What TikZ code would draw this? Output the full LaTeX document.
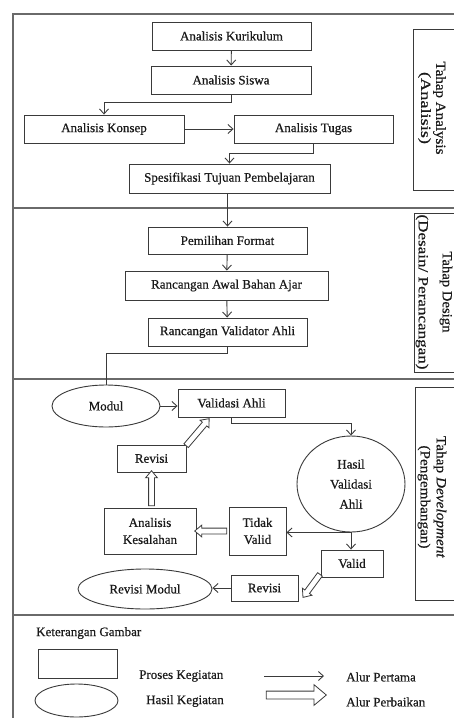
\documentclass[tikz,border=0pt]{standalone}
\usepackage{fontspec}
\setmainfont{Liberation Serif}[FakeBold=0.6]
\usepackage{graphicx}
\usetikzlibrary{arrows.meta,shapes.geometric,shapes.arrows,calc}
\definecolor{txt}{HTML}{1A1A1A}
\definecolor{bx}{HTML}{3A3A3A}
\definecolor{fr}{HTML}{6A6A6A}
\newcommand{\hollowarrow}[3][]{%
  \path let \p1=(#2), \p2=(#3), \n1={atan2(\y2-\y1,\x2-\x1)}, \n2={veclen(\x2-\x1,\y2-\y1)} in
    node[harrow,#1,minimum height=\n2,rotate=\n1] at ($(#2)!0.5!(#3)$) {};}
\begin{document}
\begin{tikzpicture}[x=1pt,y=-1pt,
  font=\fontsize{13}{15}\selectfont, text=txt,
  box/.style={draw=bx, line width=0.9pt, fill=white, inner sep=0pt, align=center},
  ell/.style={ellipse, draw=bx, line width=0.9pt, fill=white, inner sep=0pt, align=center},
  arr/.style={draw=bx, line width=0.9pt, -{Straight Barb[length=5pt,width=9pt,line width=0.9pt]}},
  ln/.style={draw=bx, line width=0.9pt},
  frame/.style={draw=fr, line width=1.1pt},
  tahapbox/.style={draw=bx, line width=0.9pt},
  vlabel/.style={rotate=-90, inner sep=0pt, align=center},
  harrow/.style={single arrow, draw=bx, fill=white, line width=0.8pt, inner sep=2.5pt,
    single arrow head extend=3pt, single arrow tip angle=80, minimum width=0pt, anchor=center},
  bigharrow/.style={inner sep=3.5pt, single arrow head extend=6.5pt, single arrow tip angle=80},
  lgtext/.style={anchor=west, inner sep=0pt},
]
\useasboundingbox (0,0) rectangle (454,718);
\clip (0,0) rectangle (454,718);

% frame and section dividers
\draw[frame] (470,14) -- (13,14) -- (13,740);
\draw[frame] (13,208) -- (470,208);
\draw[frame] (13,379) -- (470,379);
\draw[frame] (13,615) -- (470,615);

% tahap boxes
\draw[tahapbox] (458,29) -- (413,29) -- (413,190) -- (458,190);
\draw[tahapbox] (458,213) -- (414,213) -- (414,372) -- (458,372);
\draw[tahapbox] (458,387) -- (415,387) -- (415,600) -- (458,600);
\node[vlabel, font=\fontsize{14}{15}\selectfont] (tA) at (432,108)
  {\resizebox{93pt}{\height}{Tahap Analysis}\\\resizebox{72pt}{\height}{(Analisis)}};
\node[vlabel, font=\fontsize{14}{24}\selectfont] (tD) at (434,292)
  {\resizebox{81pt}{\height}{Tahap Design}\\\resizebox{155pt}{\height}{(Desain/ Perancangan)}};
\node[vlabel, font=\fontsize{14}{16}\selectfont] (tV) at (432,497)
  {\resizebox{122pt}{\height}{Tahap \textit{Development}}\\\resizebox{103pt}{\height}{(Pengembangan)}};

% analysis
\node[box, minimum width=159pt, minimum height=28pt] (kur) at (231.5,36) {Analisis Kurikulum};
\node[box, minimum width=160pt, minimum height=28pt] (sis) at (231,80) {Analisis Siswa};
\node[box, minimum width=160pt, minimum height=28pt] (kon) at (104,129) {Analisis Konsep};
\node[box, minimum width=159pt, minimum height=28pt] (tug) at (313.5,129) {Analisis Tugas};
\node[box, minimum width=201pt, minimum height=29pt] (spe) at (229.5,178.5) {Spesifikasi Tujuan Pembelajaran};

% design
\node[box, minimum width=159pt, minimum height=27pt] (pem) at (227.5,240.5) {Pemilihan Format};
\node[box, minimum width=203pt, minimum height=29pt] (raw) at (226.5,285.5) {Rancangan Awal Bahan Ajar};
\node[box, minimum width=159pt, minimum height=28pt] (rva) at (227.5,332) {Rancangan Validator Ahli};

% development
\node[ell, minimum width=108pt, minimum height=42pt] (mod) at (106,406) {Modul};
\node[box, minimum width=107pt, minimum height=28pt] (vah) at (231.5,403) {Validasi Ahli};
\node[ell, minimum width=108pt, minimum height=96pt, font=\fontsize{13}{20}\selectfont] (has) at (351,484) {Hasil\\Validasi\\Ahli};
\node[box, minimum width=69pt, minimum height=27pt] (revu) at (151.5,458.5) {Revisi};
\node[box, minimum width=92pt, minimum height=46pt, font=\fontsize{13}{17}\selectfont] (ak) at (150,531) {Analisis\\Kesalahan};
\node[box, minimum width=57pt, minimum height=48pt, font=\fontsize{13}{17}\selectfont] (tv) at (257.5,531) {Tidak\\Valid};
\node[box, minimum width=62pt, minimum height=27pt] (val) at (352,563.5) {Valid};
\node[box, minimum width=67pt, minimum height=26pt] (revl) at (264.5,588) {Revisi};
\node[ell, minimum width=134pt, minimum height=40pt] (rmod) at (145,589) {Revisi Modul};

% connectors (alur pertama)
\draw[arr] (kur) -- (sis);
\draw[arr] (sis.south) -- ++(0,8) -| (kon.north);
\draw[arr] (kon) -- (tug);
\draw[arr] (tug.south) -- ++(0,10) -| (spe.north);
\draw[arr] (pem.north |- spe.south) -- (pem.north);
\draw[arr] (pem) -- (raw);
\draw[arr] (raw) -- (rva);
\draw[ln] (rva.south) -- ++(0,7) -| (mod.north);
\draw[arr] (mod.east) -- (mod.east -| vah.west);
\draw[arr] (vah.south) -- ++(0,6) -| (has.north);
\draw[arr] (has.south) -- (has.south -| tv.east);
\draw[arr] (has.south) -- (has.south |- val.north);
\draw[arr] (revl.west) -- (revl.west -| rmod.east);

% alur perbaikan
\coordinate (h1s) at (185,447);
\coordinate (h1e) at (208,420);
\hollowarrow{h1s}{h1e}
\hollowarrow{revu.south |- ak.north}{revu.south}
\hollowarrow{tv.west}{ak.east}
\coordinate (h4s) at (321,573);
\coordinate (h4e) at (304,596);
\hollowarrow{h4s}{h4e}

% legend
\node[lgtext] (ket) at (36,633) {Keterangan Gambar};
\node[box, minimum width=79pt, minimum height=29pt] (lgbox) at (77.5,663.5) {};
\node[ell, minimum width=83pt, minimum height=33pt] (lgell) at (76.5,700.5) {};
\node[lgtext] (lg1) at (139,676) {Proses Kegiatan};
\node[lgtext] (lg2) at (146,701) {Hasil Kegiatan};
\coordinate (la1) at (264,676);
\coordinate (la2) at (324,676);
\draw[arr] (la1) -- (la2);
\coordinate (lb1) at (264,695);
\coordinate (lb2) at (324,695);
\hollowarrow[bigharrow]{lb1}{lb2}
\node[lgtext] (lg3) at (346,677) {Alur Pertama};
\node[lgtext] (lg4) at (346,702) {Alur Perbaikan};
\end{tikzpicture}
\end{document}
